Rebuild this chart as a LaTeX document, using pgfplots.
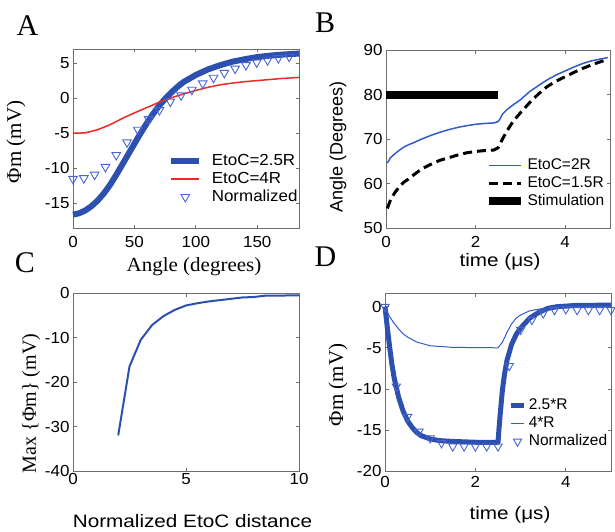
\documentclass[border=0pt]{standalone}
\usepackage{pgfplots}
\pgfplotsset{compat=1.18}
\usepackage{fontspec}
\setmainfont{Liberation Serif}
\setsansfont{Liberation Sans}
\newfontfamily\widesans[FakeStretch=1.15]{Liberation Sans}
\newfontfamily\ticksans[FakeStretch=1.06]{Liberation Sans}
\newfontfamily\wideserif[FakeStretch=1.05]{Liberation Serif}
\definecolor{axgray}{RGB}{110,110,110}
\definecolor{bthick}{RGB}{45,80,175}
\definecolor{bthin}{RGB}{50,90,200}
\definecolor{rline}{RGB}{240,40,40}
\definecolor{tricol}{RGB}{70,100,210}
\newcommand\tickfont{\ticksans\fontsize{16}{16}\selectfont}
\newcommand\serlab{\rmfamily\fontsize{20}{24}\selectfont}
\newcommand\serlabrot{\rmfamily\fontsize{21}{24}\selectfont}
\newcommand\serlabh{\wideserif\fontsize{20}{24}\selectfont}
\newcommand\sanslab{\sffamily\fontsize{18}{22}\selectfont}
\newcommand\sanslabh{\widesans\fontsize{18}{22}\selectfont}
\newcommand\panlab{\rmfamily\fontsize{30}{36}\selectfont}
\pgfplotsset{panel/.style={
  scale only axis, anchor=south west,
  axis line style={draw=axgray, line width=0.9pt},
  every tick/.style={draw=axgray, line width=0.7pt},
  tick align=inside, major tick length=3.5pt,
  ticklabel style={font=\tickfont, text=black},
  /pgf/number format/assume math mode=true,
  clip=false,
  legend cell align=left,
  legend style={draw=none, fill=none, inner sep=0pt, outer sep=0pt, anchor=north west,
    font=\ticksans\fontsize{16}{16}\selectfont, row sep=1pt,
    nodes={inner sep=1.5pt, text height=11.5pt, text depth=2.5pt}},
}}
\begin{document}
\begin{tikzpicture}
\path[use as bounding box] (0pt,0pt) rectangle (615pt,531pt);

% ---------------- Panel A
\begin{axis}[panel, at={(73pt,303pt)}, width=226pt, height=179pt,
  xmin=0, xmax=184, ymin=-18.5, ymax=7,
  xtick={0,50,100,150}, ytick={-15,-10,-5,0,5},
  xticklabel style={yshift=-4.5pt},
  legend style={at={(axis description cs:0.4217,0.4218)}},
  legend image code/.code={\draw[mark repeat=2,mark phase=2,#1] plot coordinates {(0pt,0pt) (14pt,0pt) (28pt,0pt)}; \path (36pt,0pt);}]
\addplot[draw=bthick, line width=6pt, line join=round] table {
0 -16.6
5 -16.4
10 -16.0
15 -15.4
20 -14.6
25 -13.6
30 -12.4
35 -11.0
40 -9.5
45 -8.0
50 -6.5
55 -5.0
60 -3.6
65 -2.3
70 -1.1
75 -0.1
80 0.8
85 1.6
90 2.3
95 2.8
100 3.3
110 4.1
120 4.7
130 5.2
140 5.55
150 5.85
160 6.05
170 6.2
184 6.35
};
\addlegendentry{EtoC=2.5R}
\addplot[draw=rline, line width=1.5pt] table {
0 -5.0
10 -4.95
20 -4.5
30 -3.8
40 -2.9
50 -2.1
60 -1.35
70 -0.6
80 0.05
90 0.6
100 1.1
110 1.55
120 1.9
130 2.15
140 2.35
150 2.5
160 2.65
170 2.8
184 2.95
};
\addlegendentry{EtoC=4R}
\addplot[only marks, mark=triangle, mark size=5pt, mark options={rotate=180, draw=tricol, line width=0.9pt, fill=none}] table {
0 -11.5
8.8 -11.4
17.6 -10.9
26.4 -9.8
35.2 -8.1
44 -6.3
52.8 -4.5
61.6 -3.0
70.4 -1.7
79.2 -0.5
88 0.4
96.8 1.2
105.6 2.1
114.4 2.9
123.2 3.6
132 4.2
140.8 4.7
149.6 5.1
158.4 5.4
167.2 5.7
176 5.9
};
\addlegendentry{Normalized}
\end{axis}

% ---------------- Panel B
\begin{axis}[panel, at={(386pt,303pt)}, width=224pt, height=178pt,
  xmin=0, xmax=5, ymin=50, ymax=90,
  xtick={0,2,4}, ytick={50,60,70,80,90},
  xticklabel style={yshift=-4.5pt},
  legend style={at={(axis description cs:0.442,0.399)}, font=\sffamily\fontsize{15.5}{16}\selectfont},
  legend image code/.code={\draw[mark repeat=2,mark phase=2,#1] plot coordinates {(0pt,0pt) (16pt,0pt) (32pt,0pt)}; \path (33pt,0pt);}]
\addplot[draw=bthin, line width=1.5pt] table {
0.03 64.6
0.1 65.8
0.2 66.7
0.3 67.5
0.4 68.2
0.5 68.7
0.6 69.1
0.8 70.0
1.0 70.8
1.2 71.5
1.4 72.1
1.6 72.6
1.8 73.0
2.0 73.3
2.2 73.5
2.4 73.6
2.5 73.9
2.55 74.6
2.6 75.6
2.7 76.6
2.8 77.4
3.0 78.8
3.2 80.6
3.4 82.0
3.6 83.3
3.8 84.4
4.0 85.3
4.2 86.2
4.4 87.0
4.6 87.6
4.8 88.0
4.95 88.3
};
\addlegendentry{EtoC=2R}
\addplot[draw=black, line width=3pt, dash pattern=on 9pt off 5pt] table {
0.03 54.4
0.1 56.3
0.2 58.0
0.3 59.3
0.4 60.3
0.5 61.0
0.6 61.8
0.8 63.3
1.0 64.3
1.2 65.2
1.4 65.8
1.6 66.4
1.8 66.9
2.0 67.2
2.2 67.4
2.4 67.5
2.5 68.0
2.6 70.0
2.7 71.8
2.8 73.4
2.9 74.7
3.0 75.9
3.2 78.1
3.4 80.1
3.6 81.8
3.8 83.0
4.0 84.0
4.2 85.0
4.4 85.9
4.6 86.7
4.8 87.4
4.95 87.9
};
\addlegendentry{EtoC=1.5R}
\addplot[draw=black, line width=8pt] table {
0 80
2.5 80
};
\addlegendentry{Stimulation}
\end{axis}

% ---------------- Panel C
\begin{axis}[panel, at={(73pt,60pt)}, width=226pt, height=178pt,
  xmin=0, xmax=10, ymin=-40, ymax=0,
  xtick={0,5,10}, ytick={-40,-30,-20,-10,0},
  xticklabel style={yshift=1.5pt}]
\addplot[draw=bthick, line width=2pt] table {
2 -32
2.5 -16.5
3 -10.5
3.5 -7.2
4 -5.2
4.5 -3.8
5 -2.8
5.5 -2.3
6 -1.9
6.5 -1.6
7 -1.3
7.5 -1.0
8 -0.9
8.5 -0.6
9 -0.6
9.5 -0.55
10 -0.55
};
\end{axis}

% ---------------- Panel D
\begin{axis}[panel, at={(385pt,60pt)}, width=226pt, height=178pt,
  xmin=0, xmax=5, ymin=-20, ymax=1.67,
  xtick={0,2,4}, ytick={-20,-15,-10,-5,0},
  xticklabel style={yshift=-2pt},
  legend style={at={(axis description cs:0.5456,0.416)}, font=\sffamily\fontsize{15.5}{16}\selectfont},
  legend image code/.code={\draw[mark repeat=2,mark phase=2,#1] plot coordinates {(0pt,0pt) (6.75pt,0pt) (13.5pt,0pt)}; \path (14pt,0pt);}]
\addplot[draw=bthick, line width=5pt, line join=round] table {
0 0
0.05 -2.5
0.1 -4.8
0.15 -6.9
0.2 -8.6
0.3 -11.0
0.4 -12.7
0.5 -13.9
0.6 -14.7
0.7 -15.3
0.8 -15.7
1.0 -16.1
1.2 -16.3
1.5 -16.4
2.0 -16.5
2.5 -16.5
2.52 -15.0
2.55 -13.0
2.6 -10.0
2.65 -8.0
2.7 -6.5
2.8 -4.6
2.9 -3.4
3.0 -2.6
3.2 -1.4
3.4 -0.7
3.6 -0.2
3.8 0.0
4.2 0.15
5.0 0.2
};
\addlegendentry{2.5*R}
\addplot[draw=bthin, line width=1pt] table {
0 0
0.1 -1.2
0.2 -2.0
0.3 -2.7
0.4 -3.3
0.5 -3.7
0.7 -4.3
1.0 -4.75
1.5 -4.95
2.5 -5.0
2.6 -4.3
2.7 -3.1
2.8 -2.1
2.9 -1.4
3.0 -1.0
3.2 -0.5
3.4 -0.3
3.8 -0.05
4.0 0
5.0 0
};
\addlegendentry{4*R}
\addplot[only marks, mark=triangle, mark size=4.8pt, mark options={rotate=180, draw=tricol, line width=0.9pt, fill=none}] table {
0 0
0.25 -9.7
0.5 -13.4
0.75 -15.2
1.0 -16.0
1.25 -16.6
1.5 -17.0
1.75 -17.0
2.0 -17.0
2.25 -17.0
2.5 -17.0
2.75 -7.2
3.0 -2.8
3.25 -1.6
3.5 -0.8
3.75 -0.4
4.0 -0.3
4.25 -0.4
4.5 -0.4
4.75 -0.4
5.0 -0.4
};
\addlegendentry{Normalized}
\end{axis}

% ---------------- labels
\node[font=\panlab] at (27.5pt,505pt) {A};
\node[font=\panlab] at (325pt,508pt) {B};
\node[font=\panlab] at (25pt,268pt) {C};
\node[font=\panlab] at (325.5pt,274pt) {D};

\node[font=\serlabh, anchor=base] at (194pt,260pt) {Angle (degrees)};
\node[font=\serlabrot, rotate=90] at (16pt,389pt) {Φm (mV)};
\node[font=\sanslabh] at (500pt,269pt) {time (μs)};
\node[font=\sanslab, rotate=90] at (338pt,384pt) {Angle (Degrees)};
\node[font=\sanslabh, anchor=base, inner sep=0pt] at (192.5pt,4pt) {Normalized EtoC distance};
\node[font=\serlab, rotate=90] at (31pt,127.5pt) {Max \{Φm\} (mV)};
\node[font=\sanslabh] at (510pt,16pt) {time (μs)};
\node[font=\serlabrot, rotate=90] at (338pt,146pt) {Φm (mV)};
\end{tikzpicture}
\end{document}
